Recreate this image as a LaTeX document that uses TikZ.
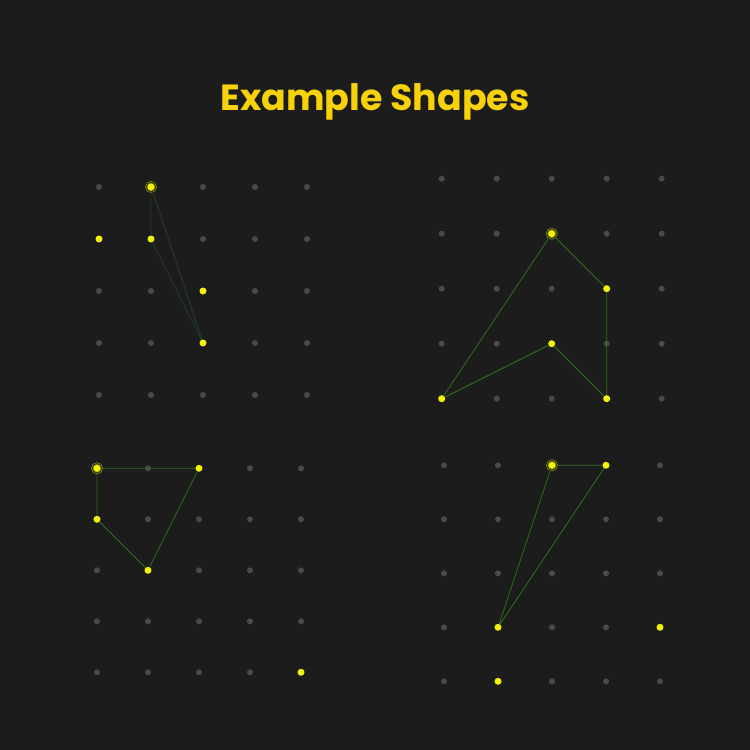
\documentclass[tikz,border=0pt]{standalone}
\usepackage{fontspec}
\newfontfamily\titlefont{Poppins}
\usepackage{tikz}
\usetikzlibrary{
  positioning  % 节点相对定位
}

% 颜色
\definecolor{bgcol}{HTML}{1C1C1C}
\definecolor{dotgrey}{HTML}{4A4A4A}
\definecolor{dotyel}{HTML}{F2F20A}
\definecolor{ringcol}{HTML}{9A9A14}
\definecolor{ringgap}{HTML}{34340F}
\definecolor{edgecol}{HTML}{2E6E1E}
\definecolor{edgefaint}{HTML}{233D23}
\definecolor{titlecol}{HTML}{F7D20A}

\tikzset{
  griddot/.style={circle, fill=dotgrey, inner sep=0pt, minimum size=6pt},
  hotdot/.style={circle, fill=dotyel, inner sep=0pt, minimum size=7pt},
  startdot/.style={circle, fill=dotyel, draw=ringcol, line width=0.6pt,
    double=ringgap, double distance=1pt, inner sep=0pt, minimum size=9.5pt},
  edge/.style={draw=edgecol, line width=0.8pt},
  faintedge/.style={draw=edgefaint, line width=0.8pt},
  titletext/.style={text=titlecol, font=\titlefont\bfseries\fontsize{36.4}{42}\selectfont}
}

\begin{document}
\begin{tikzpicture}[x=1pt, y=-1pt]
  % 背景
  \fill[bgcol] (0,0) rectangle (750,750);

  % 标题
  \node[titletext] (title) at (375,102) {Example Shapes};

  % 四组 5x5 点阵
  \foreach \g/\ox/\oy/\s in {a/99/187/52, b/441.7/178.7/55, c/97/468.3/51, d/444/465.3/54}{
    \foreach \i in {0,...,4}{
      \foreach \j in {0,...,4}{
        \node[griddot] (\g-\i-\j) at ({\ox+\i*\s},{\oy+\j*\s}) {};
      }
    }
  }

  % 左上图形
  \node[startdot] (a1) at (a-1-0) {};
  \node[hotdot] (a2) at (a-0-1) {};
  \node[hotdot] (a3) at (a-1-1) {};
  \node[hotdot] (a4) at (a-2-2) {};
  \node[hotdot] (a5) at (a-2-3) {};
  \draw[faintedge] (a1) -- (a3) -- (a5) -- (a1);

  % 右上图形
  \node[startdot] (b1) at (b-2-1) {};
  \node[hotdot] (b2) at (b-3-2) {};
  \node[hotdot] (b3) at (b-2-3) {};
  \node[hotdot] (b4) at (b-0-4) {};
  \node[hotdot] (b5) at (b-3-4) {};
  \draw[edge] (b1) -- (b2) -- (b5) -- (b3) -- (b4) -- (b1);

  % 左下图形
  \node[startdot] (c1) at (c-0-0) {};
  \node[hotdot] (c2) at (c-2-0) {};
  \node[hotdot] (c3) at (c-0-1) {};
  \node[hotdot] (c4) at (c-1-2) {};
  \node[hotdot] (c5) at (c-4-4) {};
  \draw[edge] (c1) -- (c2) -- (c4) -- (c3) -- (c1);

  % 右下图形
  \node[startdot] (d1) at (d-2-0) {};
  \node[hotdot] (d2) at (d-3-0) {};
  \node[hotdot] (d3) at (d-1-3) {};
  \node[hotdot] (d4) at (d-4-3) {};
  \node[hotdot] (d5) at (d-1-4) {};
  \draw[edge] (d1) -- (d2) -- (d3) -- (d1);
\end{tikzpicture}
\end{document}
